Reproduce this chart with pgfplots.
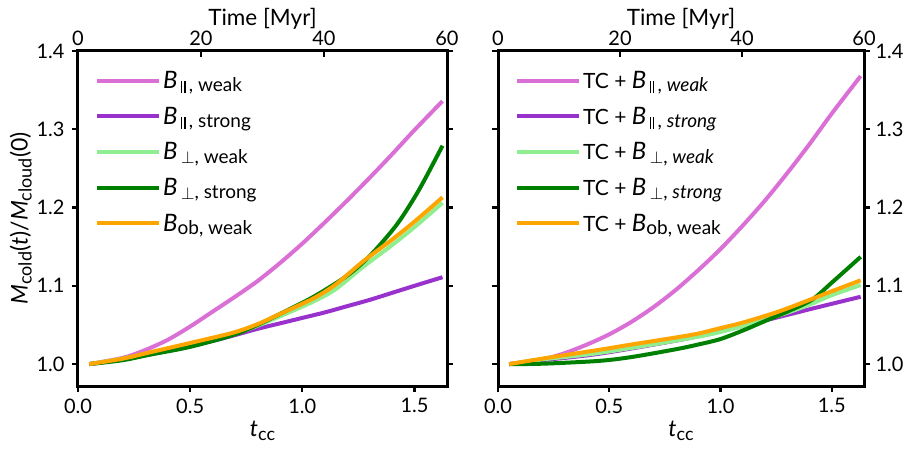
\documentclass[border=0pt]{standalone}
\usepackage{fontspec}
\setmainfont{Lato}
\usepackage{pgfplots}
\pgfplotsset{compat=1.18}
\definecolor{corchid}{HTML}{DA70D6}
\definecolor{cdorchid}{HTML}{9932CC}
\definecolor{clgreen}{HTML}{90EE90}
\definecolor{cgreen}{HTML}{008000}
\definecolor{corange}{HTML}{FFA500}
\newcommand\Bs{{\fontsize{24}{26}\selectfont\textit{B}}}
\newcommand\lsub[1]{\raisebox{-3.5pt}{\fontsize{19}{20}\selectfont #1}}
\newcommand\parl{\raisebox{-1.6pt}{\rule{1.3pt}{12pt}\hspace{2pt}\rule{1.3pt}{12pt}}}
\newcommand\perpl{\raisebox{-0.5pt}{\fontsize{17}{18}\selectfont$\perp$}}
\pgfplotsset{
  mainax/.style={
    scale only axis, width=369pt, height=335pt,
    xmin=0, xmax=1.645, ymin=0.972, ymax=1.4,
    xtick={0,0.5,1,1.5}, ytick={1.0,1.1,1.2,1.3,1.4},
    xtick pos=bottom, ytick pos=both,
    tick align=outside,
    major tick length=6pt,
    every tick/.style={black, line width=2.2pt},
    axis line style={line width=3pt},
    /pgf/number format/.cd, fixed, fixed zerofill, precision=1, assume math mode=true,
    /pgfplots/.cd,
    xticklabel style={yshift=-3pt},
    xlabel={\fontsize{23}{26}\selectfont\textit{t}\raisebox{-4pt}{\fontsize{18}{20}\selectfont cc}},
    xlabel style={yshift=-1pt},
    legend cell align=left,
    legend style={draw=none, fill=none, at={(0,1)}, anchor=north west, xshift=14pt, yshift=-16pt,
      row sep=13pt, font=\fontsize{21}{24}\selectfont},
    legend image code/.code={\draw[#1, line width=4pt] (0pt,0pt) -- (50pt,0pt); \path (0pt,0pt) -- (62pt,0pt);},
    every axis plot/.append style={line width=4pt, smooth},
  },
  topax/.style={
    scale only axis, width=369pt, height=335pt,
    xmin=0, xmax=60, ymin=0, ymax=1,
    axis x line*=top, hide y axis,
    xtick={0,20,40,60},
    tick align=inside,
    major tick length=6pt,
    every tick/.style={black, line width=2.2pt},
    axis line style={line width=3pt},
    /pgf/number format/assume math mode=true,
    xticklabel style={yshift=2pt},
    xlabel={Time [Myr]},
    xlabel style={yshift=-5pt, font=\fontsize{22.5}{26}\selectfont},
  },
}
\begin{document}
\begin{tikzpicture}[font=\fontsize{20}{24}\selectfont]
\path[use as bounding box] (-78pt,-65pt) rectangle (834pt,386pt);
\begin{axis}[mainax, at={(0pt,0pt)}, yticklabel pos=left,
  yticklabel style={xshift=-4pt},
  ylabel={\fontsize{23}{26}\selectfont\textit{M}\raisebox{-4pt}{\fontsize{18}{20}\selectfont cold}(\textit{t})/\textit{M}\raisebox{-4pt}{\fontsize{18}{20}\selectfont cloud}(0)},
  ylabel style={yshift=-2pt}]
\addplot[corchid] coordinates {(0.05,1.0)(0.2,1.008)(0.3,1.018)(0.4,1.031)(0.5,1.048)(0.6,1.067)(0.7,1.086)(0.8,1.106)(0.9,1.129)(1.0,1.154)(1.1,1.181)(1.2,1.209)(1.3,1.238)(1.4,1.268)(1.5,1.299)(1.625,1.336)};
\addlegendentry{\Bs\,\lsub{\parl\,, weak}}
\addplot[cdorchid] coordinates {(0.05,1.0)(0.2,1.006)(0.4,1.017)(0.62,1.031)(0.8,1.045)(0.9,1.052)(1.0,1.059)(1.1,1.066)(1.2,1.074)(1.3,1.082)(1.4,1.091)(1.5,1.1)(1.625,1.111)};
\addlegendentry{\Bs\,\lsub{\parl\,, strong}}
\addplot[clgreen] coordinates {(0.05,1.0)(0.2,1.007)(0.32,1.014)(0.5,1.025)(0.69,1.038)(0.8,1.049)(0.9,1.061)(1.05,1.080)(1.15,1.096)(1.27,1.124)(1.4,1.152)(1.5,1.175)(1.625,1.206)};
\addlegendentry{\Bs\,\lsub{\perpl, weak}}
\addplot[cgreen] coordinates {(0.05,1.0)(0.2,1.005)(0.32,1.012)(0.5,1.022)(0.69,1.037)(0.8,1.05)(0.9,1.064)(1.05,1.086)(1.2,1.113)(1.3,1.138)(1.393,1.168)(1.45,1.19)(1.527,1.226)(1.625,1.279)};
\addlegendentry{\Bs\,\lsub{\perpl, strong}}
\addplot[corange] coordinates {(0.05,1.0)(0.2,1.007)(0.32,1.015)(0.5,1.027)(0.69,1.040)(0.8,1.051)(0.9,1.064)(1.05,1.084)(1.15,1.102)(1.27,1.131)(1.4,1.159)(1.5,1.182)(1.625,1.213)};
\addlegendentry{\Bs\lsub{ob, weak}}
\end{axis}
\begin{axis}[topax, at={(0pt,0pt)}]
\end{axis}
\begin{axis}[mainax, at={(420pt,0pt)}, width=366pt, yticklabel pos=right, yticklabel style={xshift=2pt}]
\addplot[corchid] coordinates {(0.05,1.0)(0.2,1.006)(0.3,1.014)(0.4,1.025)(0.5,1.038)(0.6,1.054)(0.7,1.073)(0.8,1.095)(0.9,1.120)(1.0,1.147)(1.1,1.177)(1.2,1.209)(1.3,1.244)(1.4,1.281)(1.5,1.32)(1.63,1.368)};
\addlegendentry{TC + \Bs\,\lsub{\parl\,, \textit{weak}}}
\addplot[cdorchid] coordinates {(0.05,1.0)(0.2,1.005)(0.45,1.013)(0.8,1.030)(1.0,1.042)(1.26,1.06)(1.4,1.070)(1.5,1.077)(1.63,1.086)};
\addlegendentry{TC + \Bs\,\lsub{\parl\,, \textit{strong}}}
\addplot[clgreen] coordinates {(0.05,1.0)(0.2,1.006)(0.45,1.014)(0.8,1.030)(1.0,1.041)(1.26,1.062)(1.4,1.076)(1.5,1.088)(1.63,1.101)};
\addlegendentry{TC + \Bs\,\lsub{\perpl, \textit{weak}}}
\addplot[cgreen] coordinates {(0.05,1.0)(0.2,1.0005)(0.45,1.004)(0.6,1.009)(0.8,1.019)(0.9,1.025)(1.0,1.032)(1.11,1.044)(1.2,1.055)(1.3,1.067)(1.41,1.082)(1.5,1.104)(1.63,1.137)};
\addlegendentry{TC + \Bs\,\lsub{\perpl, \textit{strong}}}
\addplot[corange] coordinates {(0.05,1.0)(0.2,1.007)(0.45,1.018)(0.6,1.025)(0.8,1.034)(0.9,1.039)(1.0,1.046)(1.1,1.053)(1.26,1.067)(1.4,1.082)(1.5,1.093)(1.63,1.107)};
\addlegendentry{TC + \Bs\lsub{ob, weak}}
\end{axis}
\begin{axis}[topax, at={(420pt,0pt)}, width=366pt]
\end{axis}
\end{tikzpicture}
\end{document}
